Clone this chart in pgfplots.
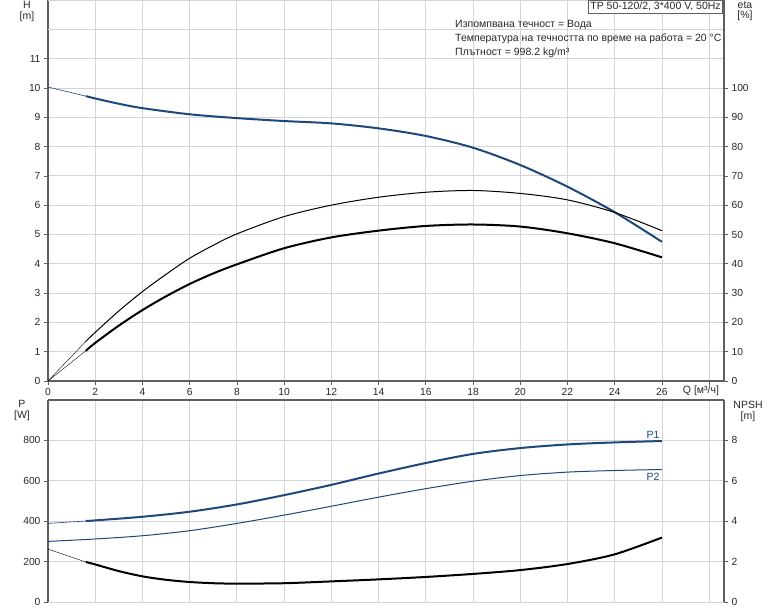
\documentclass[border=0pt]{standalone}
\usepackage{fontspec}
\setmainfont{Liberation Sans}
\usepackage{pgfplots}
\pgfplotsset{compat=1.18}
\definecolor{pblue}{RGB}{28,72,122}
\definecolor{gridc}{RGB}{212,212,212}
\definecolor{axc}{RGB}{95,95,95}
\definecolor{txt}{RGB}{40,40,40}
\pgfplotsset{
  base/.style={scale only axis, width=676pt, xmin=0, xmax=28.63,
    tick align=outside, major tick length=4pt,
    tick style={axc, line width=0.6pt},
    axis line style={axc, line width=1.2pt, -},
    ticklabel style={font=\fontsize{10.3}{12}\selectfont, text=txt},
    /pgf/number format/assume math mode=true,
    /pgf/number format/1000 sep={}},
}
\begin{document}
\begin{tikzpicture}[x=1pt,y=1pt,font=\fontsize{10.5}{12}\selectfont]
\useasboundingbox (0,0) rectangle (774,611);
% ---------- top panel: H ----------
\begin{axis}[base, at={(48pt,230pt)}, anchor=south west, height=381pt,
  ymin=0, ymax=13, axis x line*=bottom, axis y line*=left,
  xtick={0,2,...,28},
  xticklabels={0,2,4,6,8,10,12,14,16,18,20,22,24,26,{}},
  ytick={0,1,...,11},
  extra y ticks={12,13}, extra y tick labels={},
  extra y tick style={major tick length=0pt},
  grid=major, grid style={gridc, line width=0.8pt}]
\addplot[pblue, line width=0.6pt] coordinates {(0,10.03)(1.6,9.72)};
\addplot[pblue, line width=2pt, smooth] coordinates {
 (1.6,9.72)(2,9.64)(3,9.46)(4,9.31)(6,9.10)(8,8.97)(10,8.87)(12,8.79)(14,8.62)
 (16,8.36)(18,7.96)(20,7.37)(22,6.63)(24,5.76)(26,4.75)};
\end{axis}
% ---------- top panel: eta ----------
\begin{axis}[base, at={(48pt,230pt)}, anchor=south west, height=381pt,
  ymin=0, ymax=130, axis y line*=right, axis x line=none,
  ytick={0,10,...,100}]
\addplot[black, line width=0.4pt] coordinates {(0,0)(1.6,13.5)};
\addplot[black, line width=0.4pt] coordinates {(0,0)(1.6,10.3)};
\addplot[black, line width=1pt, smooth] coordinates {
 (1.6,13.5)(2,16.6)(3,23.9)(4,30.5)(5,36.4)(6,41.9)(7,46.3)(8,50.2)
 (10,56.1)(12,60.0)(14,62.7)(16,64.4)(18,65.0)(20,64.0)(22,61.8)(24,57.5)(26,51.3)};
\addplot[black, line width=2pt, smooth] coordinates {
 (1.6,10.3)(2,13.0)(3,18.9)(4,24.2)(5,28.9)(6,33.1)(7,36.7)(8,39.8)
 (10,45.3)(12,49.0)(14,51.3)(16,52.9)(18,53.4)(20,52.7)(22,50.4)(24,47.0)(26,42.2)};
\end{axis}
% ---------- bottom panel: P ----------
\begin{axis}[base, at={(48pt,9pt)}, anchor=south west, height=202pt,
  ymin=0, ymax=1000, axis y line*=left, axis x line*=top,
  xtick={0,2,...,28}, xticklabels={}, xtick style={draw=none},
  ytick={0,200,...,800},
  grid=major, grid style={gridc, line width=0.8pt}]
\addplot[pblue, line width=0.6pt] coordinates {(0,389)(1.6,401)};
\addplot[pblue, line width=2pt, smooth] coordinates {
 (1.6,401)(2,404)(4,422)(6,447)(8,483)(10,529)(12,580)(14,636)
 (16,688)(18,733)(20,762)(22,780)(24,790)(26,797)};
\addplot[pblue, line width=1pt, smooth] coordinates {
 (0,300)(2,312)(4,328)(6,353)(8,389)(10,430)(12,474)(14,519)
 (16,561)(18,598)(20,626)(22,643)(24,651)(26,656)};
\end{axis}
% ---------- bottom panel: NPSH ----------
\begin{axis}[base, at={(48pt,9pt)}, anchor=south west, height=202pt,
  ymin=0, ymax=10, axis y line*=right, axis x line=none,
  ytick={0,2,...,8}]
\addplot[black, line width=0.4pt] coordinates {(0,2.62)(1.6,1.98)};
\addplot[black, line width=2pt, smooth] coordinates {
 (1.6,1.98)(2,1.86)(3,1.53)(4,1.27)(5,1.10)(6,0.99)(7,0.93)(8,0.91)
 (10,0.93)(12,1.02)(14,1.12)(16,1.24)(18,1.39)(20,1.58)(22,1.88)(24,2.36)(26,3.19)};
\end{axis}
% ---------- labels ----------
\begin{scope}[text=txt]
\node at (27,606) {H};
\node at (27,594) {[m]};
\node at (745,606) {eta};
\node at (745,595) {[\%]};
\node at (22,207) {P};
\node at (22,195) {[W]};
\node at (748,206) {NPSH};
\node at (748,194) {[m]};
\node at (701,220) {Q [м³/ч]};
\node[text=pblue] at (653,176) {P1};
\node[text=pblue] at (653,134) {P2};
\node[draw=axc, fill=white, anchor=north east, inner sep=2pt, line width=0.6pt] at (723,611) {TP 50-120/2, 3*400 V, 50Hz};
\node[anchor=west, inner sep=0pt] at (455,586) {Изпомпвана течност = Вода};
\node[anchor=west, inner sep=0pt] at (455,572) {Температура на течността по време на работа = 20 °C};
\node[anchor=west, inner sep=0pt] at (455,558.5) {Плътност = 998.2 kg/m³};
\end{scope}
\end{tikzpicture}
\end{document}
